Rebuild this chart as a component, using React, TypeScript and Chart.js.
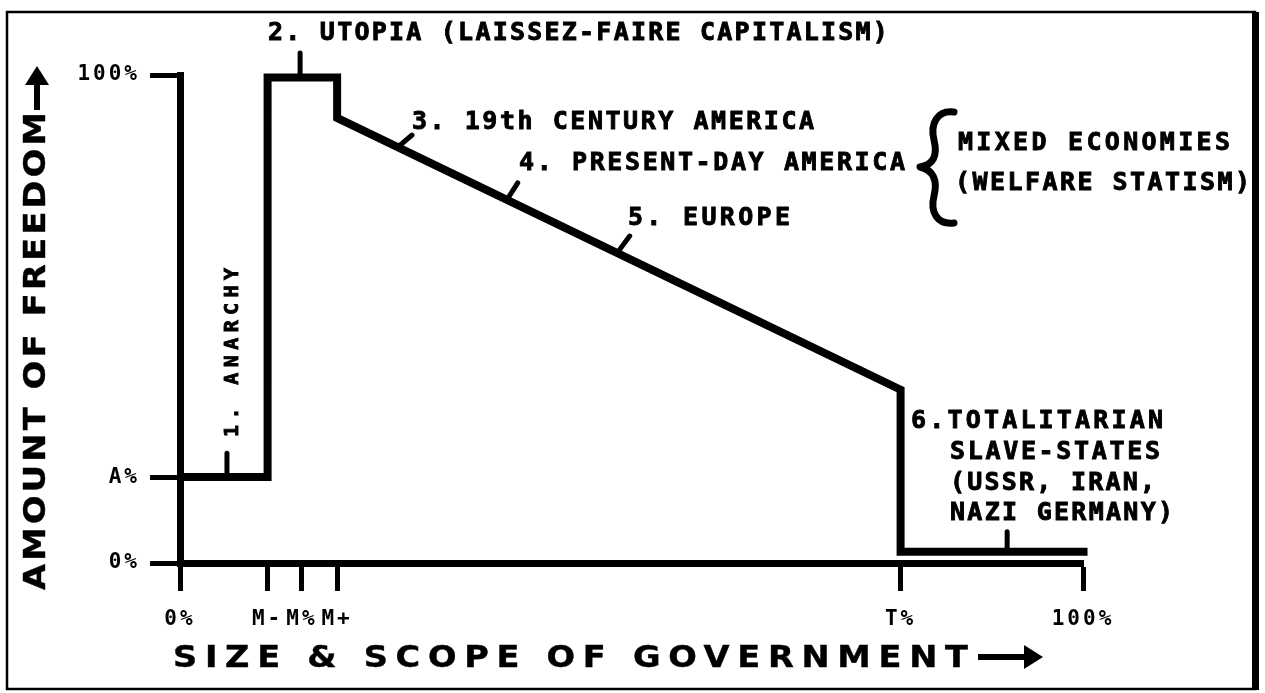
import React, { useEffect, useRef } from "react";
import { Chart, registerables } from "chart.js";

Chart.register(...registerables);

// ---- data ----
const xTickValues = [0, 9.7, 13.5, 17.4, 79.8, 100];
const xTickLabels = ["0%", "M-", "M%", "M+", "T%", "100%"];
const yTickValues = [0, 17.6, 100];
const yTickLabels = ["0%", "A%", "100%"];

// freedom curve (size of government -> amount of freedom)
const freedomX = [0, 9.7, 9.7, 17.4, 17.4, 79.8, 79.8, 100.5];
const freedomY = [17.6, 17.6, 99.5, 99.5, 91.2, 35.5, 2.3, 2.3];

// small pointer marks from the curve to each label
const pointerX = [
  [5.2, 5.2],
  [13.3, 13.3],
  [24.1, 25.7],
  [36.2, 37.4],
  [48.4, 49.8],
  [91.6, 91.6],
];
const pointerY = [
  [17.6, 22.5],
  [99.5, 104.5],
  [85.2, 87.7],
  [74.4, 77.9],
  [63.5, 67.0],
  [2.3, 6.4],
];

const MONO = "'DejaVu Sans Mono', 'Liberation Mono', monospace";
const SANS = "'DejaVu Sans', 'Liberation Sans', sans-serif";

function fitText(
  ctx: CanvasRenderingContext2D,
  text: string,
  x: number,
  y: number,
  width: number,
  font: string,
  sx = 1,
  stroke = 0.9
) {
  ctx.save();
  ctx.font = font;
  (ctx as any).letterSpacing = "0px";
  ctx.textAlign = "left";
  ctx.textBaseline = "middle";
  ctx.fillStyle = "#000";
  ctx.strokeStyle = "#000";
  ctx.lineWidth = stroke;
  ctx.translate(x, y);
  ctx.scale(sx, 1);
  const w0 = ctx.measureText(text).width;
  const sp = (width / sx - w0) / Math.max(1, text.length - 1);
  (ctx as any).letterSpacing = sp.toFixed(2) + "px";
  ctx.fillText(text, 0, 0);
  if (stroke > 0) ctx.strokeText(text, 0, 0);
  ctx.restore();
}

const decorPlugin = {
  id: "decor",
  beforeDraw(chart: any) {
    const ctx = chart.ctx as CanvasRenderingContext2D;
    ctx.save();
    ctx.fillStyle = "#fff";
    ctx.fillRect(0, 0, chart.width, chart.height);
    ctx.restore();
    (ctx as any).letterSpacing = "3px";
  },
  afterDraw(chart: any) {
    const ctx = chart.ctx as CanvasRenderingContext2D;
    (ctx as any).letterSpacing = "0px";

    // frame
    ctx.save();
    ctx.strokeStyle = "#000";
    ctx.lineWidth = 2.5;
    ctx.strokeRect(7, 12, 1248, 677);
    ctx.fillStyle = "#000";
    ctx.fillRect(1252, 12, 7, 678);
    ctx.restore();

    const f = `bold 25px ${MONO}`;
    fitText(ctx, "2. UTOPIA (LAISSEZ-FAIRE CAPITALISM)", 268, 33, 620, f);
    fitText(ctx, "3. 19th CENTURY AMERICA", 412, 122, 402, f);
    fitText(ctx, "4. PRESENT-DAY AMERICA", 519, 163, 386, f);
    fitText(ctx, "5. EUROPE", 628, 218, 162, f);
    fitText(ctx, "MIXED ECONOMIES", 958, 143, 272, f);
    fitText(ctx, "(WELFARE STATISM)", 955, 183, 295, f);
    fitText(ctx, "6.TOTALITARIAN", 911, 421, 252, f);
    fitText(ctx, "SLAVE-STATES", 950, 452, 210, f);
    fitText(ctx, "(USSR, IRAN,", 950, 483, 205, f);
    fitText(ctx, "NAZI GERMANY)", 950, 513, 223, f);

    // 1. ANARCHY (vertical)
    ctx.save();
    ctx.translate(233, 437);
    ctx.rotate(-Math.PI / 2);
    fitText(ctx, "1. ANARCHY", 0, 0, 169, `bold 20px ${MONO}`);
    ctx.restore();

    // brace for mixed economies
    ctx.save();
    ctx.strokeStyle = "#000";
    ctx.lineWidth = 7;
    ctx.lineCap = "round";
    ctx.lineJoin = "round";
    ctx.beginPath();
    ctx.moveTo(954, 112);
    ctx.bezierCurveTo(937, 110, 930, 124, 934, 140);
    ctx.bezierCurveTo(938, 156, 933, 165, 920, 167);
    ctx.bezierCurveTo(933, 170, 938, 180, 934, 196);
    ctx.bezierCurveTo(930, 212, 937, 225, 954, 223);
    ctx.stroke();
    ctx.restore();

    // axis titles
    const tf = `bold 30px ${SANS}`;
    fitText(ctx, "SIZE & SCOPE OF GOVERNMENT", 173, 659, 795, tf, 1.12, 0.4);
    ctx.save();
    ctx.fillStyle = "#000";
    ctx.fillRect(978, 654, 52, 6);
    ctx.beginPath();
    ctx.moveTo(1043, 657);
    ctx.lineTo(1024, 645);
    ctx.lineTo(1024, 669);
    ctx.closePath();
    ctx.fill();
    ctx.restore();

    ctx.save();
    ctx.translate(37, 590);
    ctx.rotate(-Math.PI / 2);
    fitText(ctx, "AMOUNT OF FREEDOM", 0, 0, 478, tf, 1.12, 0.4);
    ctx.restore();
    ctx.save();
    ctx.fillStyle = "#000";
    ctx.fillRect(34, 80, 6, 30);
    ctx.beginPath();
    ctx.moveTo(37, 66);
    ctx.lineTo(25, 85);
    ctx.lineTo(49, 85);
    ctx.closePath();
    ctx.fill();
    ctx.restore();
  },
};

export default function App() {
  const ref = useRef<HTMLCanvasElement | null>(null);

  useEffect(() => {
    if (!ref.current) return;
    const tickFont = { family: MONO, weight: "bold" as const, size: 21 };
    const datasets: any[] = [
      {
        data: freedomX.map((x, i) => ({ x, y: freedomY[i] })),
        borderColor: "#000",
        borderWidth: 8,
        pointRadius: 0,
        showLine: true,
        fill: false,
        tension: 0,
        clip: false,
        borderJoinStyle: "miter",
      },
      ...pointerX.map((px, i) => ({
        data: px.map((x, j) => ({ x, y: pointerY[i][j] })),
        borderColor: "#000",
        borderWidth: 5,
        pointRadius: 0,
        showLine: true,
        fill: false,
        clip: false,
        borderCapStyle: "round",
      })),
    ];
    const chart = new Chart(ref.current, {
      type: "scatter",
      data: { datasets },
      options: {
        animation: false,
        responsive: false,
        devicePixelRatio: 1,
        layout: { padding: { left: 0, right: 182, top: 75, bottom: 0 } },
        plugins: { legend: { display: false }, tooltip: { enabled: false } },
        events: [],
        scales: {
          x: {
            type: "linear",
            min: 0,
            max: 100,
            afterBuildTicks: (s: any) => {
              s.ticks = xTickValues.map((v) => ({ value: v }));
            },
            afterFit: (s: any) => {
              s.height = 130;
            },
            ticks: {
              callback: (_v: any, i: number) => xTickLabels[i],
              font: tickFont,
              color: "#000",
              padding: 16,
              autoSkip: false,
              maxRotation: 0,
            },
            grid: {
              drawOnChartArea: false,
              drawTicks: true,
              tickLength: 28,
              tickWidth: 5,
              tickColor: "#000",
            },
            border: { display: true, color: "#000", width: 7 },
          },
          y: {
            type: "linear",
            min: 0,
            max: 100,
            afterBuildTicks: (s: any) => {
              s.ticks = yTickValues.map((v) => ({ value: v }));
            },
            afterFit: (s: any) => {
              s.width = 180;
            },
            ticks: {
              callback: (_v: any, i: number) => yTickLabels[i],
              font: tickFont,
              color: "#000",
              padding: 10,
              autoSkip: false,
            },
            grid: {
              drawOnChartArea: false,
              drawTicks: true,
              tickLength: 30,
              tickWidth: 5,
              tickColor: "#000",
            },
            border: { display: true, color: "#000", width: 7 },
          },
        },
      } as any,
      plugins: [decorPlugin],
    });
    return () => chart.destroy();
  }, []);

  return (
    <div
      style={{
        position: "fixed",
        left: 0,
        top: 0,
        width: 1265,
        height: 693,
        background: "#fff",
      }}
    >
      <canvas ref={ref} width={1265} height={693} style={{ display: "block" }} />
    </div>
  );
}
